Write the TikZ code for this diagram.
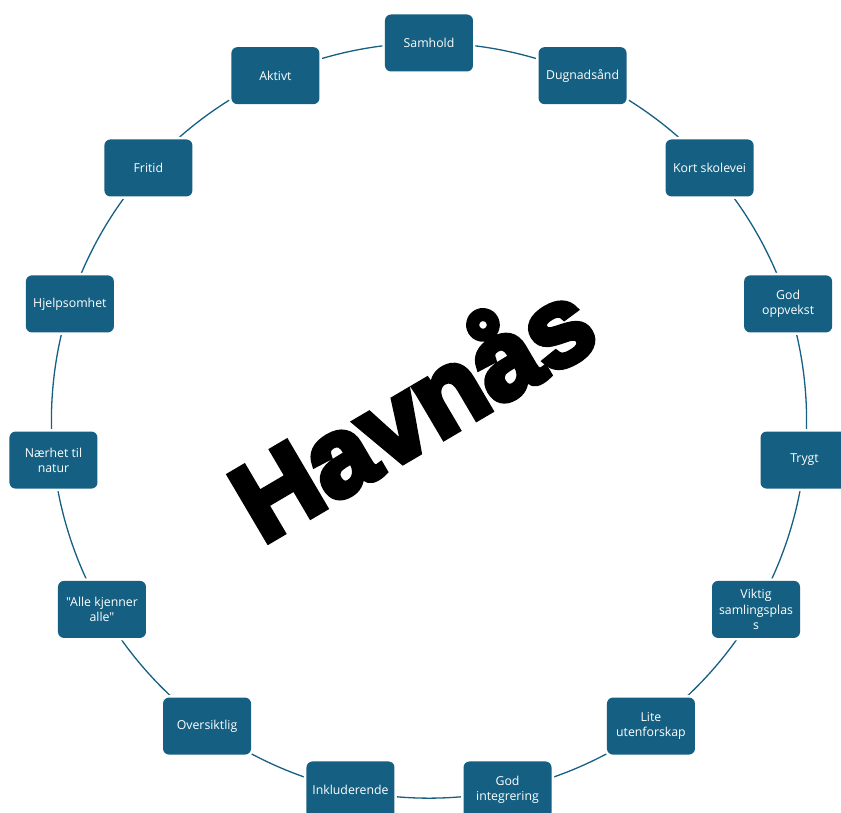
\documentclass[tikz,border=0pt]{standalone}
\usepackage{fontspec}
\newfontfamily\boxfont{Open Sans}
\newfontfamily\havfont[BoldFeatures={FakeBold=5.5}]{Liberation Sans}
\usetikzlibrary{backgrounds}
\definecolor{accent}{HTML}{156082}
\begin{document}
\begin{tikzpicture}[x=1pt,y=1pt,
  box/.style={rectangle, rounded corners=6pt, fill=accent, minimum width=88pt,
    minimum height=57pt, inner sep=2pt, text=white, align=center,
    font=\boxfont\fontsize{12.3}{15.3}\selectfont,
    preaction={draw=white, line width=5pt}},
  ring/.style={draw=accent, line width=1.3pt, bend left=12, looseness=0.86}]
\useasboundingbox (-429,-391.4) rectangle (412,420.6);
\def\R{377.6}
\node[box] (n0)  at (90:\R)  {Samhold};
\node[box] (n1)  at (66:\R)  {Dugnadsånd};
\node[box] (n2)  at (42:\R)  {Kort skolevei};
\node[box] (n3)  at (18:\R)  {God\\oppvekst};
\node[box] (n4)  at (-6:\R)  {Trygt};
\node[box] (n5)  at (-30:\R) {Viktig\\samlingsplas\\s};
\node[box] (n6)  at (-54:\R) {Lite\\utenforskap};
\node[box] (n7)  at (-78:\R) {God\\integrering};
\node[box] (n8)  at (-102:\R) {Inkluderende};
\node[box] (n9)  at (-126:\R) {Oversiktlig};
\node[box] (n10) at (-150:\R) {"Alle kjenner\\alle"};
\node[box] (n11) at (-174:\R) {Nærhet til\\natur};
\node[box] (n12) at (162:\R) {Hjelpsomhet};
\node[box] (n13) at (138:\R) {Fritid};
\node[box] (n14) at (114:\R) {Aktivt};
\begin{pgfonlayer}{background}
\foreach \i [evaluate=\i as \j using {int(mod(\i+1,15))}] in {0,...,14}
  \draw[ring] (n\i.center) to (n\j.center);
\end{pgfonlayer}
\node[rotate=30.5, anchor=base, inner sep=0pt, font=\havfont\bfseries\fontsize{111}{114}\selectfont] (title) at (3.5,-24) {Havnås};
\end{tikzpicture}
\end{document}
